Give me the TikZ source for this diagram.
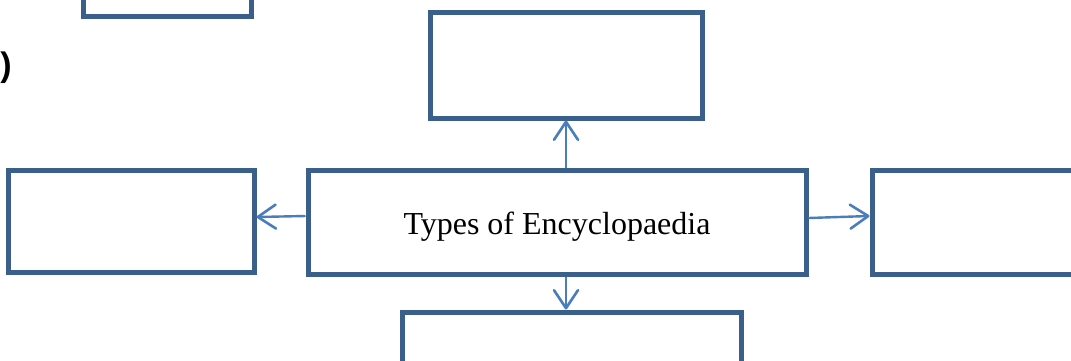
\documentclass[tikz,border=0pt]{standalone}
\usepackage{fontspec}
\setmainfont{Liberation Serif}
\newfontfamily\parenfont{Liberation Sans}
\usetikzlibrary{arrows.meta}
\definecolor{boxblue}{HTML}{3A5F8B}
\definecolor{arrowblue}{HTML}{4A7EBB}
\begin{document}
\begin{tikzpicture}[x=1pt,y=-1pt,
  blankbox/.style={draw=boxblue, line width=5pt, fill=white, rectangle, inner sep=0pt},
  link/.style={draw=arrowblue, line width=2.4pt, -{Straight Barb[length=18pt,width=24pt,line width=2.6pt,round]}}]
\useasboundingbox[fill=white] (0,0) rectangle (1071,360);
\node[blankbox, minimum width=168pt, minimum height=105pt] (topleft) at (167,-36) {};
\node[blankbox, minimum width=272pt, minimum height=106pt] (top) at (566,65) {};
\node[blankbox, minimum width=498pt, minimum height=104pt] (center) at (557,222)
  {\raisebox{-5pt}[\height][\depth]{\fontsize{32}{38}\selectfont Types of Encyclopaedia}};
\node[blankbox, minimum width=246pt, minimum height=102pt] (left) at (131,221) {};
\node[blankbox, minimum width=250pt, minimum height=104pt] (right) at (997,222) {};
\node[blankbox, minimum width=339pt, minimum height=105pt] (bottom) at (571.5,364.5) {};
\node[anchor=east, inner sep=0pt, font=\parenfont\bfseries\fontsize{34}{40}\selectfont] (paren) at (12,68) {)};
\draw[link] (top.south |- center.north) -- (top.south);
\draw[link] (top.south |- center.south) -- (top.south |- bottom.north);
\draw[link] ([yshift=6pt]center.west) -- ([yshift=4pt]left.east);
\draw[link] ([yshift=4pt]center.east) -- ([yshift=6pt]right.west);
\end{tikzpicture}
\end{document}
